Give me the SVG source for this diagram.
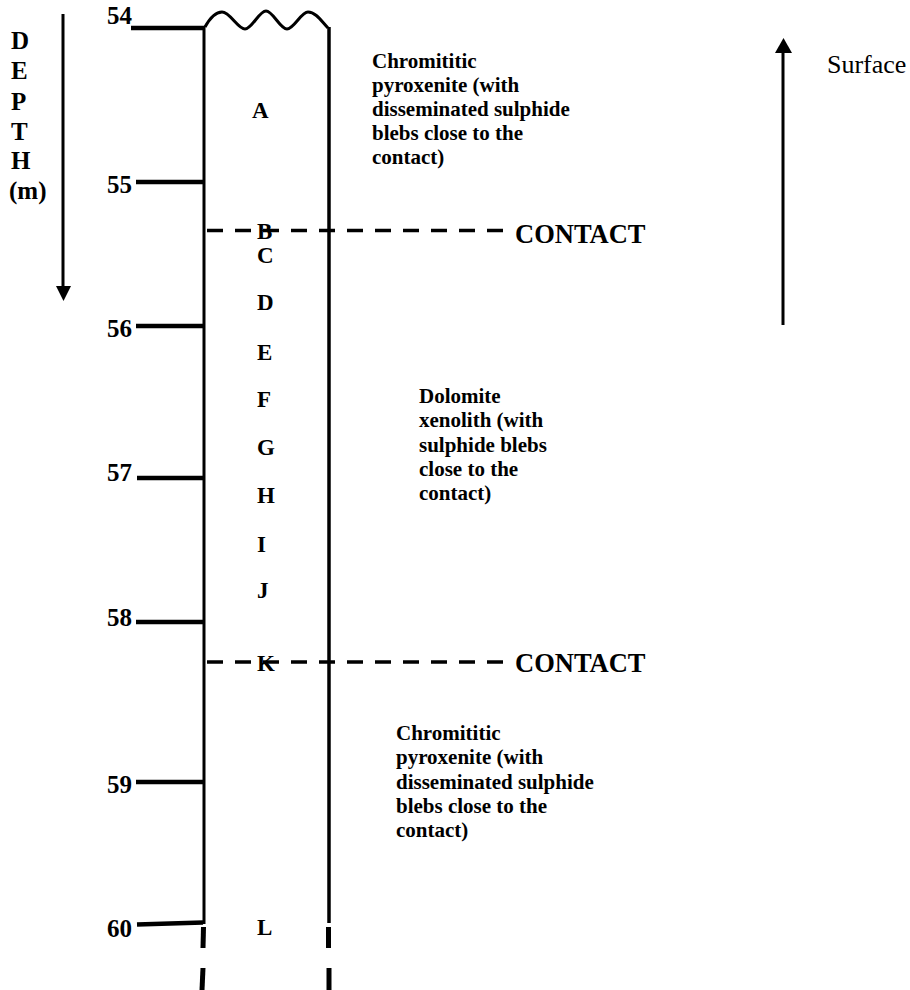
<svg xmlns="http://www.w3.org/2000/svg" width="910" height="990" viewBox="0 0 910 990">
<style>
.b{font-family:"Liberation Serif","Times New Roman",serif;font-weight:bold;fill:#000}
.num{font-size:25px}
.lt{font-size:23px}
.dp{font-size:25px}
.desc{font-size:21px}
.ct{font-size:26.5px}
.r{font-family:"Liberation Serif","Times New Roman",serif;font-size:26px;fill:#000}
.col{stroke:#000;stroke-width:3;fill:none}
.tick{stroke:#000;stroke-width:4.5;fill:none}
.dash{stroke:#000;stroke-width:3.5;stroke-dasharray:16 12;fill:none}
.arr{stroke:#000;stroke-width:3;fill:none}
</style>
<rect width="910" height="990" fill="#fff"/>
<g id="depth-label">
<text class="b dp" x="11" y="49">D</text>
<text class="b dp" x="11" y="79">E</text>
<text class="b dp" x="11" y="110">P</text>
<text class="b dp" x="11" y="140">T</text>
<text class="b dp" x="11" y="169">H</text>
<text class="b dp" x="9" y="199">(m)</text>
</g>
<g id="depth-arrow">
<line class="arr" x1="63" y1="14" x2="63" y2="288"/>
<polygon points="56,286 71,286 63.5,301" fill="#000"/>
</g>
<g id="surface-arrow">
<line class="arr" x1="783" y1="50" x2="783" y2="325"/>
<polygon points="775,53 792,53 783.5,38" fill="#000"/>
<text class="r" x="827" y="73">Surface</text>
</g>
<g id="column">
<path class="col" d="M205,27 C210,18 215,12 222,12 C230,12 238,29 245,29 C252,29 259,11 266,11 C273,11 280,29 287,29 C294,29 301,12 308,12 C316,12 322,22 328,28"/>
<line class="col" x1="204" y1="27" x2="204" y2="924"/>
<line class="col" x1="329" y1="27" x2="329" y2="923" style="stroke-width:3.5"/>
<line stroke="#000" stroke-width="5" x1="203.5" y1="927" x2="203" y2="948"/>
<line stroke="#000" stroke-width="5" x1="203" y1="968" x2="202" y2="990"/>
<line stroke="#000" stroke-width="5" x1="328.5" y1="927" x2="328.5" y2="948"/>
<line stroke="#000" stroke-width="5" x1="329" y1="968" x2="329" y2="990"/>
</g>
<g id="ticks">
<line class="tick" x1="131" y1="28" x2="205" y2="28"/>
<line class="tick" x1="136" y1="182" x2="203" y2="182"/>
<line class="tick" x1="136" y1="326" x2="203" y2="326"/>
<line class="tick" x1="137" y1="478" x2="203" y2="478"/>
<line class="tick" x1="136" y1="622" x2="203" y2="622"/>
<line class="tick" x1="136" y1="782" x2="203" y2="782"/>
<line class="tick" x1="137" y1="924.5" x2="203" y2="922.5"/>
<text class="b num" x="107" y="24">54</text>
<text class="b num" x="107" y="193">55</text>
<text class="b num" x="107" y="337">56</text>
<text class="b num" x="107" y="481">57</text>
<text class="b num" x="107" y="626">58</text>
<text class="b num" x="107" y="793">59</text>
<text class="b num" x="107" y="937">60</text>
</g>
<g id="contacts">
<line class="dash" x1="207" y1="230.5" x2="503" y2="230.5"/>
<line class="dash" x1="207" y1="662" x2="503" y2="662"/>
<text class="b ct" x="515" y="243">CONTACT</text>
<text class="b ct" x="515" y="672">CONTACT</text>
</g>
<g id="samples">
<text class="b lt" x="252" y="118">A</text>
<text class="b lt" x="257" y="239">B</text>
<text class="b lt" x="257" y="263">C</text>
<text class="b lt" x="257" y="310">D</text>
<text class="b lt" x="257" y="360">E</text>
<text class="b lt" x="257" y="407">F</text>
<text class="b lt" x="257" y="455">G</text>
<text class="b lt" x="257" y="503">H</text>
<text class="b lt" x="257" y="552">I</text>
<text class="b lt" x="257" y="598">J</text>
<text class="b lt" x="257" y="671">K</text>
<text class="b lt" x="257" y="935">L</text>
</g>
<g id="unit-top">
<text class="b desc" x="372" y="68">Chromititic</text>
<text class="b desc" x="372" y="92">pyroxenite (with</text>
<text class="b desc" x="372" y="116">disseminated sulphide</text>
<text class="b desc" x="372" y="140">blebs close to the</text>
<text class="b desc" x="372" y="164">contact)</text>
</g>
<g id="unit-middle">
<text class="b desc" x="419" y="403">Dolomite</text>
<text class="b desc" x="419" y="427">xenolith (with</text>
<text class="b desc" x="419" y="452">sulphide blebs</text>
<text class="b desc" x="419" y="476">close to the</text>
<text class="b desc" x="419" y="500">contact)</text>
</g>
<g id="unit-bottom">
<text class="b desc" x="396" y="740">Chromititic</text>
<text class="b desc" x="396" y="764">pyroxenite (with</text>
<text class="b desc" x="396" y="789">disseminated sulphide</text>
<text class="b desc" x="396" y="813">blebs close to the</text>
<text class="b desc" x="396" y="837">contact)</text>
</g>
</svg>
